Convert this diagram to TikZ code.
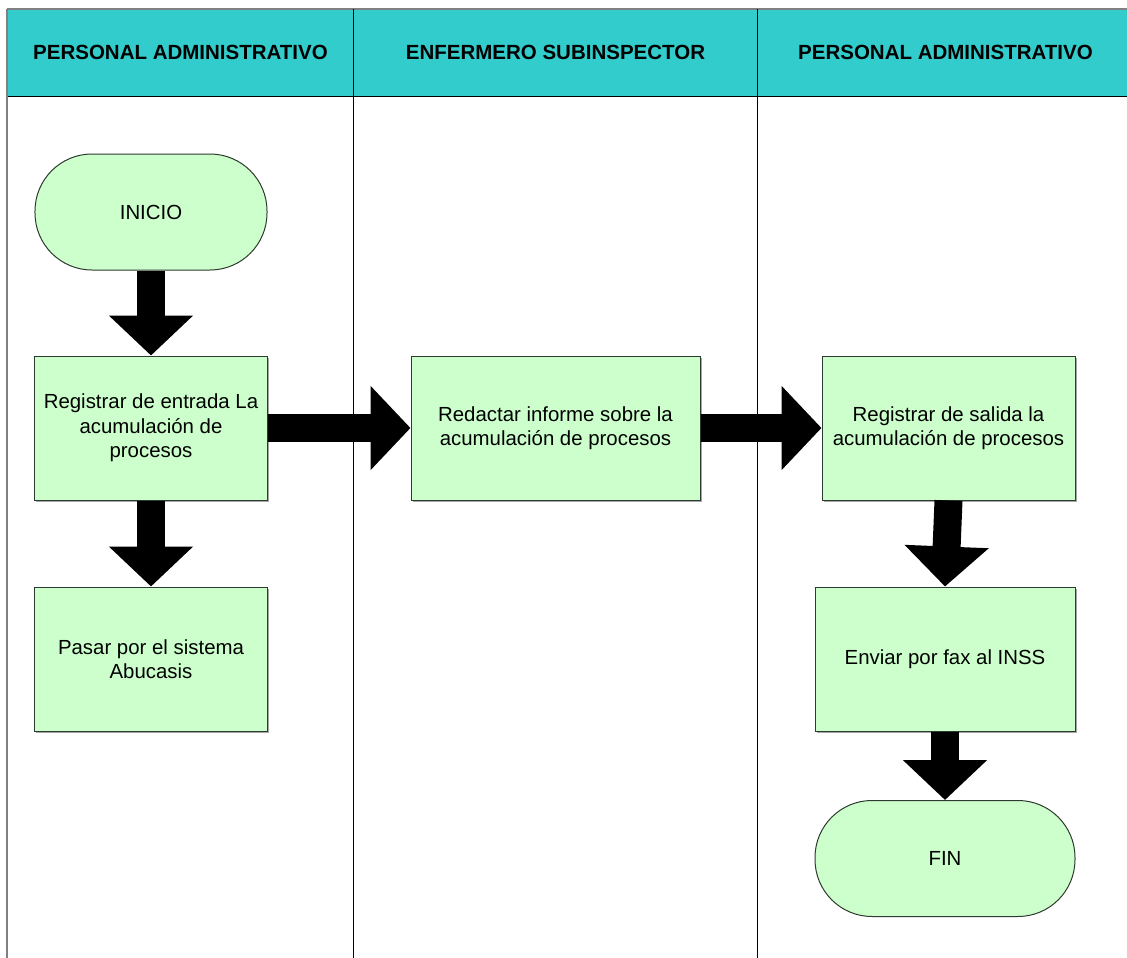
\documentclass[tikz,border=0pt]{standalone}
\usepackage{fontspec}
\setmainfont{Liberation Sans}
\usetikzlibrary{arrows.meta,shadows}

\definecolor{lanehead}{HTML}{33CCCC}
\definecolor{stepfill}{HTML}{CCFFCC}
\definecolor{stepline}{HTML}{2E3A2E}

\tikzset{
  every node/.style={font=\fontsize{20.4bp}{24.5bp}\selectfont, text=black},
  headtext/.style={font=\fontsize{20.5bp}{24bp}\selectfont\bfseries},
  stepbox/.style={draw=stepline, line width=1bp, fill=stepfill, align=center,
    inner sep=0pt, minimum width=#1, minimum height=144bp,
    drop shadow={shadow xshift=1.5bp, shadow yshift=-1.5bp, fill=black!35, opacity=1}},
  stepbox/.default=232bp,
  terminal/.style={draw=stepline, line width=1bp, fill=stepfill, align=center,
    rounded corners=57bp, inner sep=0pt, minimum width=#1, minimum height=116bp},
  terminal/.default=232bp,
  flow/.style={line width=28bp, line cap=butt, draw=black,
    -{Triangle[length=40bp,width=82bp]}},
  lane/.style={draw=black, line width=1bp},
}

\begin{document}
\begin{tikzpicture}[x=1bp,y=-1bp]
\useasboundingbox (0,0) rectangle (1127,958);

% lane headers
\fill[lanehead] (7,9) rectangle (1127,96);
\draw[lane] (7,96) -- (1127,96);
\draw[gray, line width=1.5bp] (7,9) -- (1127,9);
\draw[gray, line width=2bp] (7,9) -- (7,958);
\draw[lane] (353,9) -- (353,958);
\draw[lane] (757,9) -- (757,958);

\node[headtext] (h1) at (180.5,52) {PERSONAL ADMINISTRATIVO};
\node[headtext] (h2) at (555.5,52) {ENFERMERO SUBINSPECTOR};
\node[headtext] (h3) at (945.5,52) {PERSONAL ADMINISTRATIVO};

% steps
\node[terminal] (ini) at (151,212) {INICIO};
\node[stepbox] (b1) at (151,428) {Registrar de entrada La\\acumulación de\\procesos};
\node[stepbox] (b4) at (151,659) {Pasar por el sistema\\Abucasis};
\node[stepbox=289bp] (b2) at (555.5,428) {Redactar informe sobre la\\acumulación de procesos};
\node[stepbox=253bp] (b3) at (948.5,428) {Registrar de salida la\\acumulación de procesos};
\node[stepbox=260bp] (b5) at (945,659) {Enviar por fax al INSS};
\node[terminal=260bp] (fin) at (945,858.5) {FIN};

% connectors
\draw[flow] (ini.south) -- (b1.north);
\draw[flow] (b1.south) -- (b4.north);
\draw[flow] (b1.east) -- (b2.west);
\draw[flow] (b2.east) -- (b3.west);
\draw[flow] (b3.south) -- (b5.north);
\draw[flow] (b5.south) -- (fin.north);
\end{tikzpicture}
\end{document}
